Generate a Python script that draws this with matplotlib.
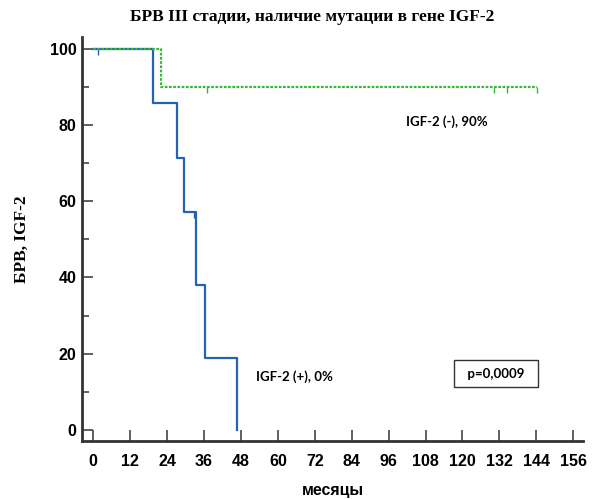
import matplotlib
matplotlib.use('Agg')
import matplotlib.pyplot as plt
from matplotlib.ticker import MultipleLocator

# IGF-2 (+): event times (months) and survival (%)
pos_t = [0, 19.3, 27.1, 29.6, 33.4, 36.3, 46.6]
pos_s = [100, 85.7, 71.4, 57.1, 38.1, 19.0, 0]
pos_cens_t = [1.4, 32.8]
pos_cens_s = [100, 57.1]

# IGF-2 (-)
neg_t = [0, 21.9, 144.2]
neg_s = [100, 90, 90]
neg_cens_t = [37.1, 130.3, 134.4, 144.2]
neg_cens_s = [90, 90, 90, 90]

xticks = list(range(0, 157, 12))
yticks = [0, 20, 40, 60, 80, 100]

blue = '#2462b4'
green = '#35b835'
tick_mark = [(0, 0), (0, -1)]  # censor tick drawn below the line

fig = plt.figure(figsize=(5.99, 4.99), dpi=100)
ax = fig.add_axes([0.1369, 0.1162, 0.8364, 0.8097])

ax.step(pos_t, pos_s, where='post', color=blue, lw=1.6)
ax.plot(pos_cens_t, pos_cens_s, ls='none', marker=tick_mark, ms=8,
        mec=blue, mew=1.0)
ax.step(neg_t, neg_s, where='post', color=green, lw=1.6,
        linestyle=(0, (1.2, 0.7)))
ax.plot(neg_cens_t, neg_cens_s, ls='none', marker=tick_mark, ms=8,
        mec=green, mew=1.0)

ax.set_xlim(-3.67, 159.2)
ax.set_ylim(-2.9, 103.1)
ax.set_xticks(xticks)
ax.set_yticks(yticks)
ax.yaxis.set_minor_locator(MultipleLocator(10))

for s in ['top', 'right']:
    ax.spines[s].set_visible(False)
for s in ['left', 'bottom']:
    ax.spines[s].set_linewidth(2)
    ax.spines[s].set_color('#333333')

ax.tick_params(axis='x', direction='in', length=8, width=1.2, color='#444444',
               pad=9, labelsize=11.5)
ax.tick_params(axis='y', which='major', direction='in', length=8, width=1.2,
               color='#444444', pad=4, labelsize=11.5)
ax.tick_params(axis='y', which='minor', direction='in', length=5, width=1.2,
               color='#444444')
for lab in ax.get_xticklabels() + ax.get_yticklabels():
    lab.set_fontweight('bold')
    lab.set_family('Liberation Sans')

fig.text(0.521, 0.966, 'БРВ III стадии, наличие мутации в гене IGF-2',
         ha='center', va='center', fontsize=12.5, fontweight='bold',
         family='Liberation Serif')
fig.text(0.037, 0.52, 'БРВ, IGF-2', rotation=90, ha='center', va='center',
         fontsize=12.5, fontweight='bold', family='Liberation Serif')
fig.text(0.556, 0.018, 'месяцы', ha='center', va='center', fontsize=11.5,
         fontweight='bold', family='Liberation Sans')

ax.text(101.5, 81, 'IGF-2 (-), 90%', ha='left', va='center', fontsize=9.5,
        family='Lato', fontweight='bold')
ax.text(53, 14, 'IGF-2 (+), 0%', ha='left', va='center', fontsize=9.5,
        family='Lato', fontweight='bold')
ax.text(131, 14.8, '  p=0,0009  ', ha='center', va='center', fontsize=9.5,
        family='Lato', fontweight='bold',
        bbox=dict(boxstyle='square,pad=0.55', fc='white', ec='#333333', lw=1))

fig.savefig('out.png', dpi=100)
